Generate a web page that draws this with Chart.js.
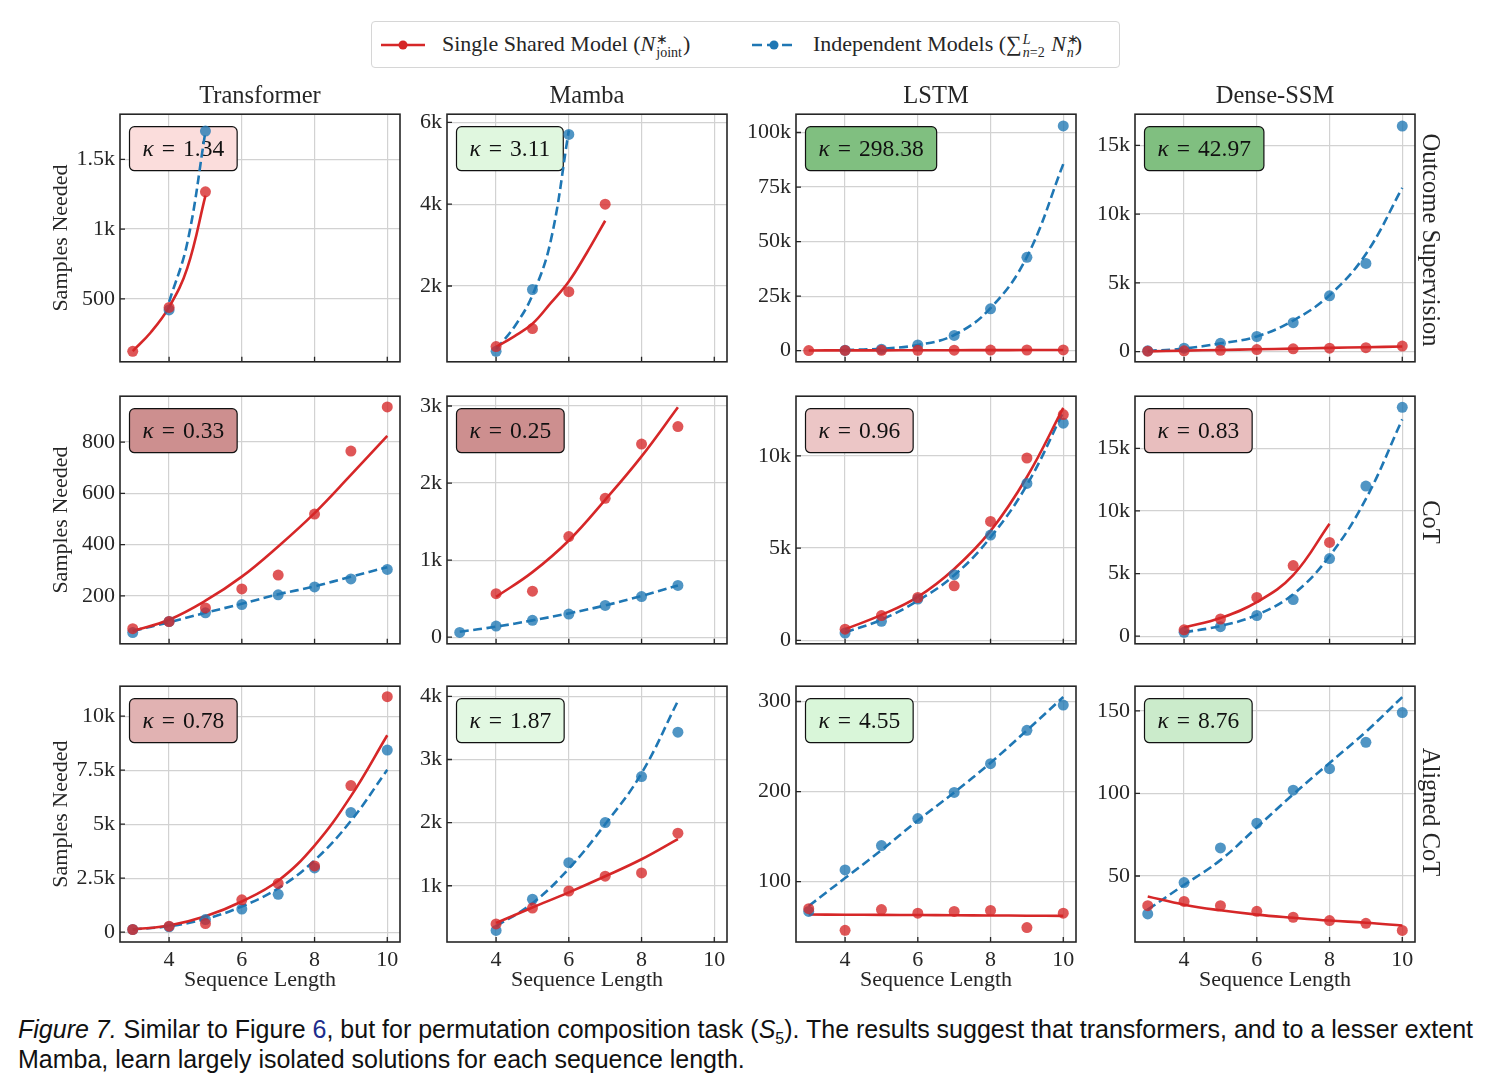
<!DOCTYPE html>
<html>
<head>
<meta charset="utf-8">
<script src="https://cdn.jsdelivr.net/npm/chart.js@4.4.1/dist/chart.umd.min.js"></script>
<style>
  body { margin:0; background:#fff; width:1491px; height:1090px; position:relative; overflow:hidden;
         font-family:"Liberation Serif", serif; color:#262626; }
  canvas { position:absolute; }
  .lbl { position:absolute; font-size:24.5px; white-space:nowrap; line-height:28px; }
  .coltitle { transform:translateX(-50%); }
  .rowlbl { transform:translate(-50%,-50%) rotate(90deg); }
  #legend { position:absolute; left:371px; top:21px; width:747px; height:45px; border:1px solid #d6d6d6;
            border-radius:4px; background:#fff; }
  #legend svg { position:absolute; top:17px; }
  #legend .txt { position:absolute; top:9px; font-size:22px; white-space:nowrap; line-height:26px; }
  .ss { display:inline-block; position:relative; font-size:14px; line-height:14px; vertical-align:-6px; margin:0 1px; }
  .ss .sb { display:block; }
  .ss .sp { position:absolute; left:0; top:-13px; }
  #cap { position:absolute; left:18px; top:1015px; font-family:"Liberation Sans", sans-serif; font-size:25px;
         line-height:29.5px; white-space:nowrap; color:#111; }
  #cap sub { font-size:16px; line-height:0; }
</style>
</head>
<body>

<div id="legend">
  <svg style="left:9px" width="44" height="12"><line x1="0" y1="6" x2="44" y2="6" stroke="#d62728" stroke-width="2.6"/><circle cx="22" cy="6" r="4.5" fill="#d62728"/></svg>
  <div class="txt" style="left:70px">Single Shared Model (<i>N</i><span class="ss"><span class="sp">∗</span><span class="sb">joint</span></span>)</div>
  <svg style="left:380px" width="44" height="12"><line x1="0" y1="6" x2="44" y2="6" stroke="#1f77b4" stroke-width="2.6" stroke-dasharray="10 5"/><circle cx="22" cy="6" r="4.5" fill="#1f77b4"/></svg>
  <div class="txt" style="left:441px">Independent Models (∑<span class="ss"><span class="sp"><i>L</i></span><span class="sb"><i>n</i>=2</span></span> <i>N</i><span class="ss"><span class="sp">∗</span><span class="sb"><i>n</i></span></span>)</div>
</div>

<div id="cap"><i>Figure 7.</i> Similar to Figure <span style="color:#1c2c8c">6</span>, but for permutation composition task (<i>S</i><sub>5</sub>). The results suggest that transformers, and to a lesser extent<br>Mamba, learn largely isolated solutions for each sequence length.</div>

<script>
// ---- data ----
const seqLen = [3, 4, 5, 6, 7, 8, 9, 10];
const halfLen = [3, 3.5, 4, 4.5, 5, 5.5, 6, 6.5, 7];   // denser x for the short fitted curves
const xTicks = [4, 6, 8, 10];
const modelNames = ['Transformer', 'Mamba', 'LSTM', 'Dense-SSM'];
const regimeNames = ['Outcome Supervision', 'CoT', 'Aligned CoT'];

// Outcome supervision (fits on halfLen for transformer / mamba)
const trOutShared    = [123, 438, 1267, null, null, null, null, null];
const trOutIndep     = [null, 420, 1703, null, null, null, null, null];
const trOutSharedFit = [125, 260, 440, 720, 1240, null, null, null, null];
const trOutIndepFit  = [null, null, 477, 900, 1700, null, null, null, null];
const trOutRange = [48, 1824];
const trOutTicks = [500, 1000, 1500];

const maOutShared    = [null, 519, 960, 1860, 4000, null, null, null];
const maOutIndep     = [null, 402, 1914, 5705, null, null, null, null];
const maOutSharedFit = [null, null, 510, 770, 1077, 1581, 2110, 2820, 3595];
const maOutIndepFit  = [null, null, 456, 1000, 1775, 3093, 5800, null, null];
const maOutRange = [147, 6200];
const maOutTicks = [2000, 4000, 6000];

const lsOutShared    = [60, 120, 180, 200, 240, 280, 310, 350];
const lsOutIndep     = [null, 200, 700, 2600, 7000, 19200, 42800, 103000];
const lsOutSharedFit = [100, 130, 160, 190, 220, 250, 280, 310];
const lsOutIndepFit  = [null, 300, 900, 2600, 7200, 19500, 43000, 85500];
const lsOutRange = [-5100, 108400];
const lsOutTicks = [0, 25000, 50000, 75000, 100000];

const dsOutShared    = [30, 60, 100, 150, 200, 250, 290, 400];
const dsOutIndep     = [60, 250, 600, 1100, 2100, 4060, 6410, 16400];
const dsOutSharedFit = [20, 70, 120, 170, 220, 270, 320, 370];
const dsOutIndepFit  = [50, 220, 600, 1100, 2260, 4100, 7100, 11900];
const dsOutRange = [-740, 17260];
const dsOutTicks = [0, 5000, 10000, 15000];

// CoT
const trCotShared    = [72, 100, 153, 227, 281, 519, 765, 937];
const trCotIndep     = [57, 100, 134, 166, 204, 235, 266, 303];
const trCotSharedFit = [63, 107, 181, 275, 393, 523, 672, 824];
const trCotIndepFit  = [63, 97, 134, 169, 206, 237, 275, 312];
const trCotRange = [13, 979];
const trCotTicks = [200, 400, 600, 800];

const maCotShared    = [null, 564, 597, 1305, 1802, 2506, 2733, null];
const maCotIndep     = [62, 144, 218, 300, 412, 527, 671, null];
const maCotSharedFit = [null, 523, 844, 1255, 1782, 2346, 2984, null];
const maCotIndepFit  = [70, 136, 218, 309, 412, 535, 671, null];
const maCotRange = [-86, 3127];
const maCotTicks = [0, 1000, 2000, 3000];

const lsCotShared    = [null, 601, 1340, 2320, 2955, 6443, 9880, 12234];
const lsCotIndep     = [null, 395, 1031, 2234, 3557, 5704, 8505, 11770];
const lsCotSharedFit = [null, 601, 1375, 2354, 3866, 5928, 8849, 12595];
const lsCotIndepFit  = [null, 430, 1117, 2148, 3522, 5584, 8419, 12371];
const lsCotRange = [-190, 13230];
const lsCotTicks = [0, 5000, 10000];

const dsCotShared    = [null, 508, 1370, 3096, 5635, 7487, null, null];
const dsCotIndep     = [null, 305, 761, 1650, 2919, 6193, 11980, 18274];
const dsCotSharedFit = [null, 685, 1447, 2716, 4873, 8985, null, null];
const dsCotIndepFit  = [null, 305, 812, 1700, 3350, 6396, 10964, 17310];
const dsCotRange = [-610, 19160];
const dsCotTicks = [0, 5000, 10000, 15000];

// Aligned CoT
const trAlnShared    = [122, 274, 396, 1494, 2256, 3064, 6784, 10900];
const trAlnIndep     = [122, 244, 579, 1067, 1753, 2973, 5534, 8430];
const trAlnSharedFit = [122, 305, 732, 1418, 2378, 4009, 6296, 9116];
const trAlnIndepFit  = [122, 274, 610, 1189, 2027, 3323, 5152, 7515];
const trAlnRange = [-457, 11386];
const trAlnTicks = [0, 2500, 5000, 7500, 10000];

const maAlnShared    = [null, 396, 646, 917, 1151, 1203, 1833, null];
const maAlnIndep     = [null, 292, 786, 1365, 2000, 2729, 3432, null];
const maAlnSharedFit = [null, 411, 655, 895, 1150, 1420, 1740, null];
const maAlnIndepFit  = [null, 359, 724, 1271, 1974, 2781, 3927, null];
const maAlnRange = [109, 4161];
const maAlnTicks = [1000, 2000, 3000, 4000];

const lsAlnShared    = [70, 46, 69, 65, 67, 68, 49, 65];
const lsAlnIndep     = [67, 113, 140, 170, 199, 231, 268, 296];
const lsAlnSharedFit = [63.5, 63.3, 63.1, 62.9, 62.7, 62.5, 62.2, 62];
const lsAlnIndepFit  = [73, 104, 135, 168, 199, 232, 268, 305];
const lsAlnRange = [33, 317];
const lsAlnTicks = [100, 200, 300];

const dsAlnShared    = [32, 34.6, 32, 28.6, 25, 23, 21.3, 17];
const dsAlnIndep     = [27, 46, 67, 82, 102, 115, 131, 149];
const dsAlnSharedFit = [37.6, 32.6, 29.2, 26.6, 24.7, 23, 21.7, 20];
const dsAlnIndepFit  = [29.6, 44.6, 59.6, 79.5, 99.5, 118.5, 137.4, 158.4];
const dsAlnRange = [10, 165];
const dsAlnTicks = [50, 100, 150];

const kappaOut = [1.34, 3.11, 298.38, 42.97];
const kappaCot = [0.33, 0.25, 0.96, 0.83];
const kappaAln = [0.78, 1.87, 4.55, 8.76];

// ---- styling / layout ----
const kappaFill = [
  ['#fbdddc', '#e0f7df', '#80bf80', '#80bf80'],
  ['#cd8f8f', '#cd8f8f', '#ecc6c6', '#e8bebe'],
  ['#e1b2b2', '#e2f8e2', '#d9f6d9', '#cbebcb']
];
const colLeft = [120, 447, 796, 1135];
const rowTop = [110, 392, 682];
const PW = 280, PH = 260, YW = 100, PT = 14, PR = 16;
const RED = '#d62728', BLUE = '#1f77b4';
const RED_A = 'rgba(214,39,40,0.78)', BLUE_A = 'rgba(31,119,180,0.78)';
const INK = '#262626';
const FONT = 'Liberation Serif';

// [shared pts, indep pts, shared fit, indep fit, y range, y ticks, x for the fits]
const panels = [
  [trOutShared, trOutIndep, trOutSharedFit, trOutIndepFit, trOutRange, trOutTicks, halfLen],
  [maOutShared, maOutIndep, maOutSharedFit, maOutIndepFit, maOutRange, maOutTicks, halfLen],
  [lsOutShared, lsOutIndep, lsOutSharedFit, lsOutIndepFit, lsOutRange, lsOutTicks, seqLen],
  [dsOutShared, dsOutIndep, dsOutSharedFit, dsOutIndepFit, dsOutRange, dsOutTicks, seqLen],
  [trCotShared, trCotIndep, trCotSharedFit, trCotIndepFit, trCotRange, trCotTicks, seqLen],
  [maCotShared, maCotIndep, maCotSharedFit, maCotIndepFit, maCotRange, maCotTicks, seqLen],
  [lsCotShared, lsCotIndep, lsCotSharedFit, lsCotIndepFit, lsCotRange, lsCotTicks, seqLen],
  [dsCotShared, dsCotIndep, dsCotSharedFit, dsCotIndepFit, dsCotRange, dsCotTicks, seqLen],
  [trAlnShared, trAlnIndep, trAlnSharedFit, trAlnIndepFit, trAlnRange, trAlnTicks, seqLen],
  [maAlnShared, maAlnIndep, maAlnSharedFit, maAlnIndepFit, maAlnRange, maAlnTicks, seqLen],
  [lsAlnShared, lsAlnIndep, lsAlnSharedFit, lsAlnIndepFit, lsAlnRange, lsAlnTicks, seqLen],
  [dsAlnShared, dsAlnIndep, dsAlnSharedFit, dsAlnIndepFit, dsAlnRange, dsAlnTicks, seqLen]
];
const kappas = [kappaOut, kappaCot, kappaAln];

const toXY = (xs, ys) => xs.map((x, i) => ({ x, y: ys[i] }));
const fmtK = v => {
  if (Math.abs(v) >= 1000) return String(+(v / 1000).toFixed(1)) + 'k';
  return String(v);
};

// kappa box, inward ticks and the box frame
const panelDeco = {
  id: 'panelDeco',
  beforeDatasetsDraw(chart, args, opts) {
    const { ctx, chartArea: a } = chart;
    const fs = 23.5, gap = 8, pad = 13, h = 44;
    const num = opts.kappa.toFixed(2);
    ctx.save();
    ctx.font = `italic ${fs}px "${FONT}"`;
    const wK = ctx.measureText('κ').width;
    ctx.font = `${fs}px "${FONT}"`;
    const wEq = ctx.measureText('=').width, wN = ctx.measureText(num).width;
    const w = pad * 2 + wK + gap + wEq + gap + wN;
    const bx = a.left + 9.5, by = a.top + 12.5;
    ctx.beginPath();
    ctx.roundRect(bx, by, w, h, 5);
    ctx.fillStyle = opts.fill; ctx.fill();
    ctx.lineWidth = 1.2; ctx.strokeStyle = '#111'; ctx.stroke();
    ctx.fillStyle = '#111'; ctx.textBaseline = 'middle';
    let tx = bx + pad; const ty = by + h / 2 + 1;
    ctx.font = `italic ${fs}px "${FONT}"`; ctx.fillText('κ', tx, ty); tx += wK + gap;
    ctx.font = `${fs}px "${FONT}"`; ctx.fillText('=', tx, ty); tx += wEq + gap;
    ctx.fillText(num, tx, ty);
    ctx.restore();
  },
  afterDatasetsDraw(chart) {
    const { ctx, chartArea: a, scales: { x, y } } = chart;
    ctx.save();
    ctx.strokeStyle = INK; ctx.lineWidth = 1.3;
    ctx.beginPath();
    x.ticks.forEach(t => { const p = x.getPixelForValue(t.value); ctx.moveTo(p, a.bottom); ctx.lineTo(p, a.bottom - 5); });
    y.ticks.forEach(t => { const p = y.getPixelForValue(t.value); ctx.moveTo(a.left, p); ctx.lineTo(a.left + 5, p); });
    ctx.stroke();
    ctx.lineWidth = 1.6;
    ctx.strokeRect(a.left, a.top, a.right - a.left, a.bottom - a.top);
    ctx.restore();
  }
};

panels.forEach((p, idx) => {
  const row = Math.floor(idx / 4), col = idx % 4;
  const [shared, indep, sharedFit, indepFit, range, ticks, fitX] = p;
  const bottomRow = row === 2;
  const XH = bottomRow ? 60 : 10;

  const cv = document.createElement('canvas');
  cv.width = YW + PW + PR;
  cv.height = PT + PH + XH;
  cv.style.left = (colLeft[col] - YW) + 'px';
  cv.style.top = (rowTop[row] - PT) + 'px';
  document.body.appendChild(cv);

  const tickFont = { family: FONT, size: 22 };
  new Chart(cv, {
    type: 'line',
    data: {
      datasets: [
        { data: toXY(seqLen, shared), showLine: false, pointRadius: 5.5, pointBackgroundColor: RED_A, pointBorderWidth: 0 },
        { data: toXY(seqLen, indep), showLine: false, pointRadius: 5.5, pointBackgroundColor: BLUE_A, pointBorderWidth: 0 },
        { data: toXY(fitX, sharedFit), borderColor: RED, borderWidth: 2.6, pointRadius: 0, tension: 0.4 },
        { data: toXY(fitX, indepFit), borderColor: BLUE, borderWidth: 2.6, borderDash: [9, 4.5], pointRadius: 0, tension: 0.4 }
      ]
    },
    options: {
      responsive: false,
      animation: false,
      events: [],
      layout: { padding: { left: 0, top: PT, right: PR, bottom: 0 } },
      plugins: {
        legend: { display: false },
        tooltip: { enabled: false },
        panelDeco: { kappa: kappas[row][col], fill: kappaFill[row][col] }
      },
      scales: {
        x: {
          type: 'linear', min: 2.65, max: 10.35, bounds: 'data',
          afterBuildTicks: s => { s.ticks = xTicks.map(v => ({ value: v })); },
          afterFit: s => { s.height = XH; },
          grid: { color: '#d2d2d2', lineWidth: 1.2, drawTicks: false },
          border: { display: false },
          ticks: { display: bottomRow, padding: 5, color: INK, font: tickFont, maxRotation: 0 },
          title: { display: bottomRow, text: 'Sequence Length', color: INK, font: tickFont, padding: { top: 0, bottom: 9 } }
        },
        y: {
          type: 'linear', min: range[0], max: range[1], bounds: 'data',
          afterBuildTicks: s => { s.ticks = ticks.map(v => ({ value: v })); },
          afterFit: s => { s.width = YW; },
          grid: { color: '#d2d2d2', lineWidth: 1.2, drawTicks: false },
          border: { display: false },
          ticks: { padding: 5, color: INK, font: tickFont, callback: v => fmtK(v) },
          title: { display: col === 0, text: 'Samples Needed', color: INK, font: tickFont, padding: { top: 28, bottom: 0 } }
        }
      }
    },
    plugins: [panelDeco]
  });
});

// column titles and row labels
modelNames.forEach((name, c) => {
  const d = document.createElement('div');
  d.className = 'lbl coltitle';
  d.textContent = name;
  d.style.left = (colLeft[c] + PW / 2) + 'px';
  d.style.top = '81px';
  document.body.appendChild(d);
});
regimeNames.forEach((name, r) => {
  const d = document.createElement('div');
  d.className = 'lbl rowlbl';
  d.textContent = name;
  d.style.left = '1431px';
  d.style.top = (rowTop[r] + PH / 2) + 'px';
  document.body.appendChild(d);
});
</script>
</body>
</html>
